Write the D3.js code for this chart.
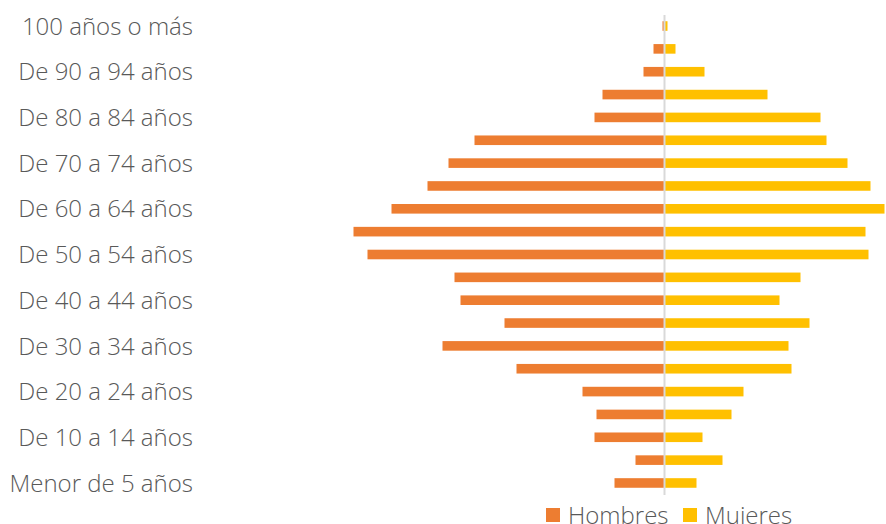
<!DOCTYPE html>
<html>
<head>
<meta charset="utf-8">
<script src="https://cdn.jsdelivr.net/npm/d3@7"></script>
<style>
  body { margin: 0; background: #fff; }
  svg { display: block; font-family: "Open Sans", sans-serif; }
</style>
</head>
<body>
<div id="chart"></div>
<script>
// age groups, bottom to top
var ages = ["Menor de 5 años", "De 5 a 9 años", "De 10 a 14 años", "De 15 a 19 años",
  "De 20 a 24 años", "De 25 a 29 años", "De 30 a 34 años", "De 35 a 39 años",
  "De 40 a 44 años", "De 45 a 49 años", "De 50 a 54 años", "De 55 a 59 años",
  "De 60 a 64 años", "De 65 a 69 años", "De 70 a 74 años", "De 75 a 79 años",
  "De 80 a 84 años", "De 85 a 89 años", "De 90 a 94 años", "De 95 a 99 años",
  "100 años o más"];
var hombres = [50, 29, 70, 68, 82, 148, 222, 160, 204, 210, 297, 311, 273, 237, 216, 190, 70, 62, 21, 11, 2];
var mujeres = [32, 58, 38, 67, 79, 127, 124, 145, 115, 136, 204, 201, 220, 206, 183, 162, 156, 103, 40, 11, 3];
// only every other label is shown
var tickLabels = ages.filter(function(d, i){ return i % 2 == 0; });
var seriesNames = ["Hombres", "Mujeres"];
var colors = ["#ED7D31", "#FFC000"];

var width = 886, height = 524;

var svg = d3.select("#chart")
  .append("svg")
  .attr("width", width)
  .attr("height", height);

// x: one scale, men to the left of zero
var x = d3.scaleLinear()
  .domain([-320, 222])
  .range([344.5, 886.5]);

var y = d3.scaleBand()
  .domain(ages.slice().reverse())
  .range([14.6, 494.4])
  .paddingInner(0.58)
  .paddingOuter(0.29);

// men bars
svg.selectAll(".hombre")
  .data(ages)
  .enter()
  .append("rect")
    .attr("class", "hombre")
    .attr("x", function(d, i){ return x(-hombres[i]); })
    .attr("y", function(d){ return y(d); })
    .attr("width", function(d, i){ return x(0) - x(-hombres[i]); })
    .attr("height", y.bandwidth())
    .style("fill", colors[0]);

// women bars
svg.selectAll(".mujer")
  .data(ages)
  .enter()
  .append("rect")
    .attr("class", "mujer")
    .attr("x", x(0))
    .attr("y", function(d){ return y(d); })
    .attr("width", function(d, i){ return x(mujeres[i]) - x(0); })
    .attr("height", y.bandwidth())
    .style("fill", colors[1]);

// centre line
svg.append("line")
  .attr("x1", x(0)).attr("x2", x(0))
  .attr("y1", 15).attr("y2", 495)
  .attr("stroke", "#d9d9d9")
  .attr("stroke-width", 2);

// category labels
var yAxis = svg.append("g")
  .attr("transform", "translate(193,0)")
  .call(d3.axisLeft(y).tickValues(tickLabels).tickSize(0).tickPadding(0));
yAxis.select(".domain").remove();
yAxis.selectAll("text")
  .attr("dy", "0.36em")
  .style("font-family", "'Open Sans', sans-serif")
  .style("font-weight", 300)
  .style("font-size", "24px")
  .style("fill", "#595959");

// legend
var legendX = [546, 683];
var legend = svg.selectAll(".legend")
  .data(seriesNames)
  .enter()
  .append("g")
    .attr("class", "legend")
    .attr("transform", function(d, i){ return "translate(" + legendX[i] + ",508)"; });
legend.append("rect")
  .attr("width", 14)
  .attr("height", 14)
  .style("fill", function(d, i){ return colors[i]; });
legend.append("text")
  .attr("x", 22)
  .attr("y", 7)
  .attr("dy", "0.36em")
  .style("font-weight", 300)
  .style("font-size", "24px")
  .style("fill", "#595959")
  .text(function(d){ return d; });
</script>
</body>
</html>
